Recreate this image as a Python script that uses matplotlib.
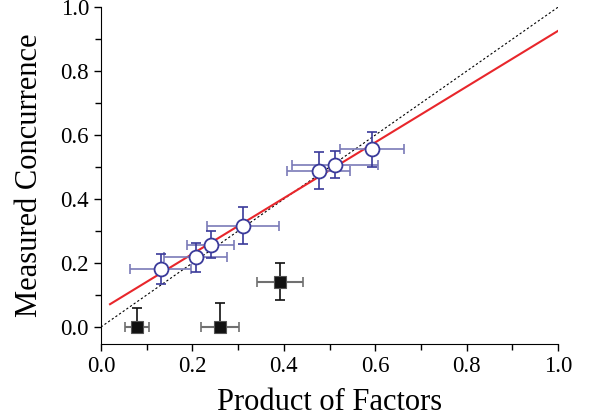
import matplotlib.pyplot as plt
from matplotlib.ticker import MultipleLocator

plt.rcParams['font.family'] = ['Liberation Serif', 'DejaVu Serif']

# entangled points (open circles)
x_open = [0.131, 0.207, 0.240, 0.311, 0.476, 0.512, 0.592]
y_open = [0.181, 0.218, 0.258, 0.317, 0.489, 0.508, 0.555]
xerr_open = [0.067, 0.068, 0.052, 0.078, 0.069, 0.093, 0.070]
yerr_open = [0.047, 0.046, 0.043, 0.057, 0.059, 0.041, 0.054]

# points with no measured concurrence (filled squares)
x_sq = [0.079, 0.260, 0.392]
y_sq = [0.0, 0.0, 0.142]
xerr_sq = [0.026, 0.042, 0.050]
yerr_sq_lo = [0.0, 0.0, 0.059]
yerr_sq_hi = [0.058, 0.076, 0.059]

# linear fit
fit_x = [0.02, 1.0]
fit_slope = 0.872
fit_icpt = 0.054

fig, ax = plt.subplots(figsize=(5.9, 4.19), dpi=100)

ax.plot([0, 1], [0, 1], ls=(0, (2, 2)), color='black', lw=0.8, zorder=1)
ax.plot(fit_x, [fit_icpt + fit_slope * v for v in fit_x], color='#e8262b', lw=1.5, zorder=2)

# horizontal bars lighter, vertical bars darker
ax.errorbar(x_open, y_open, xerr=xerr_open, fmt='none', ecolor='#7a7ab8',
            elinewidth=1.2, capsize=3.5, capthick=1.2, zorder=3)
ax.errorbar(x_open, y_open, yerr=yerr_open, fmt='none', ecolor='#3a3a9a',
            elinewidth=1.2, capsize=3.5, capthick=1.2, zorder=3)
ax.plot(x_open, y_open, 'o', ms=10, mfc='white', mec='#3a3a9a', mew=1.3, zorder=4)

ax.errorbar(x_sq, y_sq, xerr=xerr_sq, fmt='none', ecolor='#707070',
            elinewidth=1.5, capsize=3.5, capthick=1.2, zorder=3)
ax.errorbar(x_sq, y_sq, yerr=[yerr_sq_lo, yerr_sq_hi], fmt='none', ecolor='#111111',
            elinewidth=1.2, capsize=3.5, capthick=1.2, zorder=3)
ax.plot(x_sq, y_sq, 's', ms=9, mfc='#111111', mec='#555555', mew=0.8, zorder=4)

ax.set_xlim(0, 1.0)
ax.set_ylim(-0.053, 1.0)
ax.xaxis.set_major_locator(MultipleLocator(0.2))
ax.xaxis.set_minor_locator(MultipleLocator(0.1))
ax.yaxis.set_major_locator(MultipleLocator(0.2))
ax.yaxis.set_minor_locator(MultipleLocator(0.1))
ax.xaxis.set_major_formatter(lambda v, p: f'{v:.1f}')
ax.yaxis.set_major_formatter(lambda v, p: f'{v:.1f}')
ax.spines['top'].set_visible(False)
ax.spines['right'].set_visible(False)
ax.tick_params(which='major', direction='out', length=5, width=1, labelsize=16.5)
ax.tick_params(which='minor', direction='out', length=4, width=1)

ax.set_xlabel('Product of Factors', fontsize=22, labelpad=8)
ax.set_ylabel('Measured Concurrence', fontsize=22, labelpad=12)

fig.subplots_adjust(left=0.171, right=0.946, bottom=0.179, top=0.983)
fig.savefig('out.png')
